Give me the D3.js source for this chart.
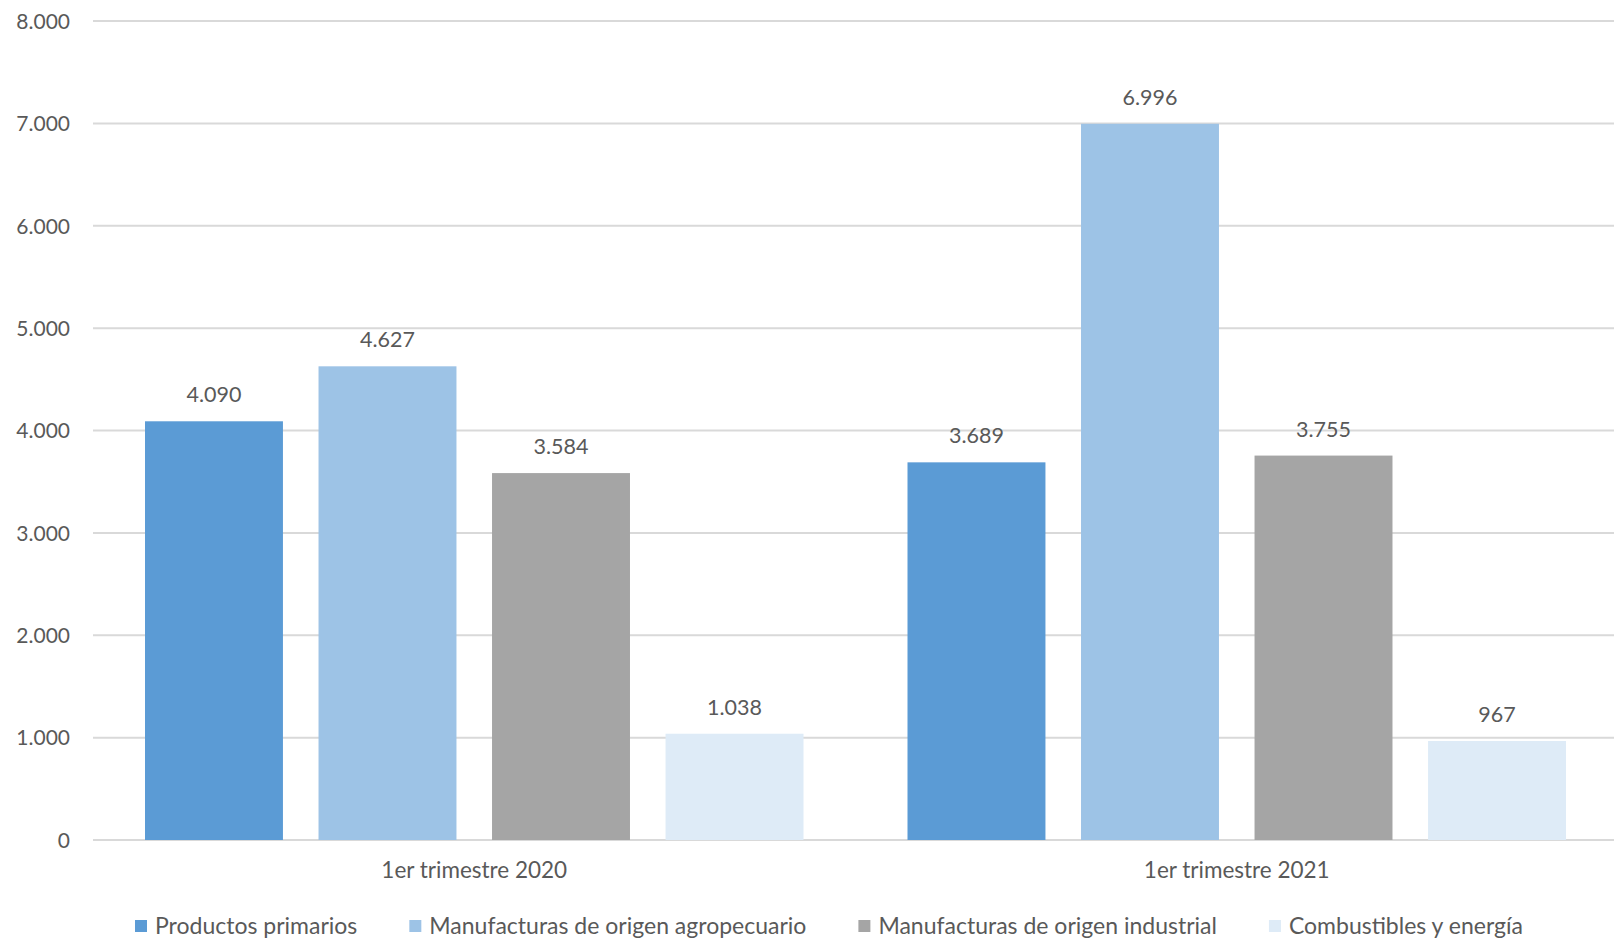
<!DOCTYPE html>
<html>
<head>
<meta charset="utf-8">
<script src="https://cdn.jsdelivr.net/npm/d3@7"></script>
<style>
  html, body { margin: 0; padding: 0; background: #fff; }
  svg { display: block; }
  text { font-family: Lato, "Open Sans", sans-serif; fill: #595959; }
</style>
</head>
<body>
<svg id="chart" width="1614" height="939"></svg>
<script>
const categories = ["1er trimestre 2020", "1er trimestre 2021"];
const seriesNames = ["Productos primarios", "Manufacturas de origen agropecuario", "Manufacturas de origen industrial", "Combustibles y energía"];
const seriesColors = ["#5b9bd5", "#9dc3e6", "#a5a5a5", "#deebf7"];
const productosPrimarios = [4090, 3689];
const manufacturasAgro = [4627, 6996];
const manufacturasIndustrial = [3584, 3755];
const combustibles = [1038, 967];
const yTicks = [0, 1000, 2000, 3000, 4000, 5000, 6000, 7000, 8000];

const seriesValues = [productosPrimarios, manufacturasAgro, manufacturasIndustrial, combustibles];

const W = 1614, H = 939;
const margin = { left: 93, right: -4, top: 21, bottom: 99 };
const svg = d3.select("#chart");
const fmt = d3.formatLocale({ decimal: ",", thousands: ".", grouping: [3], currency: ["", ""] }).format(",");

const x0 = d3.scaleBand().domain(categories).range([margin.left, W - margin.right]).padding(0);
const x1 = d3.scaleBand().domain(seriesNames).range([52, x0.bandwidth() - 52]).paddingInner(0.205).paddingOuter(0);
const y = d3.scaleLinear().domain([0, 8000]).range([H - margin.bottom, margin.top]);

// gridlines
svg.append("g").selectAll("line").data(yTicks).join("line")
  .attr("x1", margin.left).attr("x2", W)
  .attr("y1", d => y(d)).attr("y2", d => y(d))
  .attr("stroke", "#d9d9d9").attr("stroke-width", 2);

// y axis labels
const yAxis = d3.axisLeft(y).tickValues(yTicks).tickFormat(fmt).tickSize(0).tickPadding(0);
const yg = svg.append("g").attr("transform", `translate(70,0)`).call(yAxis);
yg.select(".domain").remove();
yg.selectAll("text").attr("font-family", "Lato, sans-serif").attr("font-size", 21).attr("fill", "#595959").attr("dy", "0.35em");

// bars
const groups = svg.append("g").selectAll("g").data(categories).join("g")
  .attr("transform", d => `translate(${x0(d)},0)`);

groups.each(function(cat, ci) {
  const g = d3.select(this);
  const data = seriesNames.map((s, si) => ({ s, si, v: seriesValues[si][ci] }));
  g.selectAll("rect").data(data).join("rect")
    .attr("x", d => x1(d.s))
    .attr("width", x1.bandwidth())
    .attr("y", d => y(d.v))
    .attr("height", d => y(0) - y(d.v))
    .attr("fill", d => seriesColors[d.si]);
  g.selectAll("text.val").data(data).join("text").attr("class", "val")
    .attr("x", d => x1(d.s) + x1.bandwidth() / 2)
    .attr("y", d => y(d.v) - 19)
    .attr("text-anchor", "middle")
    .attr("font-size", 21.5)
    .text(d => fmt(d.v));
});

// category axis labels
const xAxis = d3.axisBottom(x0).tickSize(0).tickPadding(0);
const xg = svg.append("g").attr("transform", `translate(0,${y(0)})`).call(xAxis);
xg.select(".domain").remove();
xg.selectAll("text").attr("font-family", "Lato, sans-serif").attr("font-size", 22.5).attr("fill", "#595959")
  .attr("y", 30).attr("dy", "0.35em");

// legend
const legend = svg.append("g").attr("transform", `translate(0,926)`);
let lx = 135;
seriesNames.forEach((s, i) => {
  legend.append("rect").attr("x", lx).attr("y", -6).attr("width", 12).attr("height", 12).attr("fill", seriesColors[i]);
  const t = legend.append("text").attr("x", lx + 20).attr("y", 0).attr("dy", "0.35em")
    .attr("font-size", 23).text(s);
  const w = t.node().getComputedTextLength();
  lx += 20 + w + 52;
});
</script>
</body>
</html>
